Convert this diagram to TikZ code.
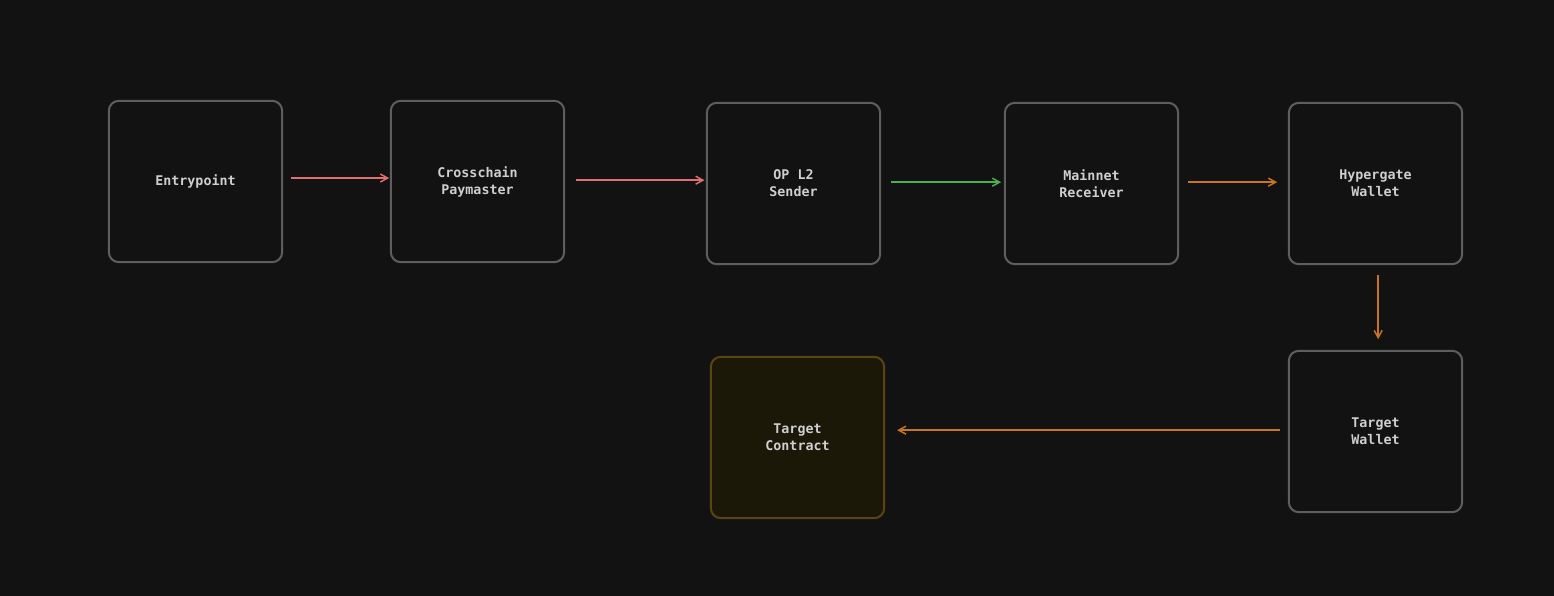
\documentclass[tikz,border=0pt]{standalone}
\usepackage{fontspec}
\setmonofont{DejaVu Sans Mono}
\usetikzlibrary{arrows.meta, positioning}

\definecolor{bgdark}{HTML}{121212}
\definecolor{boxline}{HTML}{5E5E5E}
\definecolor{boxtext}{HTML}{CFCFCF}
\definecolor{arrred}{HTML}{E07070}
\definecolor{arrgreen}{HTML}{4CAF50}
\definecolor{arrorange}{HTML}{C87420}
\definecolor{goalfill}{HTML}{1B1808}
\definecolor{goalline}{HTML}{5A4416}

\begin{document}
\begin{tikzpicture}[
  x=0.75pt, y=-0.75pt,
  font=\ttfamily\bfseries\fontsize{10pt}{12.8pt}\selectfont,
  box/.style={draw=boxline, line width=1.5pt, rounded corners=7.5pt, fill=bgdark,
              text=boxtext, align=center, inner sep=0pt,
              minimum width=130pt, minimum height=121pt},
  goal/.style={box, draw=goalline, fill=goalfill},
  arr/.style={-{Straight Barb[length=5.5pt, width=6pt]}, line width=1.1pt}]

  % background
  \fill[bgdark] (0,0) rectangle (1554,596);
  \useasboundingbox (0,0) rectangle (1554,596);

  % top row
  \node[box] (entry) at (195.5,181.5) {Entrypoint};
  \node[box] (paymaster) at (477.5,181.5) {Crosschain\\Paymaster};
  \node[box] (sender) at (793.5,183.5) {OP L2\\Sender};
  \node[box] (receiver) at (1091.5,183.5) {Mainnet\\Receiver};
  \node[box] (hypergate) at (1375.5,183.5) {Hypergate\\Wallet};

  % bottom row
  \node[box] (twallet) at (1375.5,431.5) {Target\\Wallet};
  \node[goal] (tcontract) at (797.5,437.5) {Target\\Contract};

  % flows
  \draw[arr, arrred, shorten <=6pt, shorten >=0.5pt]
    ([yshift=2.6pt]entry.east) -- ([yshift=2.6pt]entry.east -| paymaster.west);
  \draw[arr, arrred, shorten <=8pt, shorten >=1pt]
    ([yshift=1pt]paymaster.east) -- ([yshift=1pt]paymaster.east -| sender.west);
  \draw[arr, arrgreen, shorten <=7.5pt, shorten >=2pt]
    ([yshift=1pt]sender.east) -- ([yshift=1pt]sender.east -| receiver.west);
  \draw[arr, arrorange, shorten <=6.5pt, shorten >=8pt]
    ([yshift=1pt]receiver.east) -- ([yshift=1pt]receiver.east -| hypergate.west);
  \draw[arr, arrorange, shorten <=7.5pt, shorten >=8pt]
    ([xshift=2pt]hypergate.south) -- ([xshift=2pt]twallet.north);
  \draw[arr, arrorange, shorten <=6pt, shorten >=9pt]
    ([yshift=1pt]twallet.west) -- ([yshift=1pt]twallet.west -| tcontract.east);
\end{tikzpicture}
\end{document}
